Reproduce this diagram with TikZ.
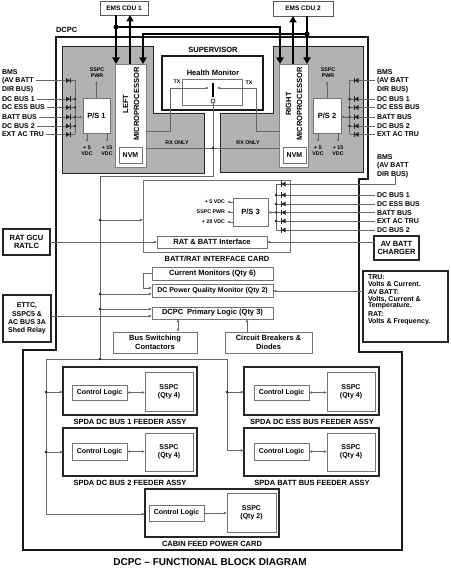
\documentclass[tikz,border=0pt]{standalone}
\usepackage{fontspec}
\setmainfont{Liberation Sans}
\usetikzlibrary{arrows.meta}
\newcommand\mybox[7]{\node[#1, minimum width={(#5)-(#3)}, minimum height={(#6)-(#4)}] (#2) at ({((#3)+(#5))/2},{((#4)+(#6))/2}) {#7};}
\begin{document}
\begin{tikzpicture}[x=1pt,y=-1pt,
 f5/.style={font=\bfseries\fontsize{5.3}{6.3}\selectfont},
 f6/.style={font=\bfseries\fontsize{6.5}{7.5}\selectfont},
 f7/.style={font=\bfseries\fontsize{7}{8.3}\selectfont},
 f75/.style={font=\bfseries\fontsize{7.5}{8.5}\selectfont},
 every node/.style={inner sep=0pt, outer sep=0pt, f75},
 thinbox/.style={draw=black!55, line width=0.9pt, fill=white, align=center},
 darkbox/.style={draw=black!85, line width=1.3pt, fill=white, align=center},
 conn/.style={draw=black!60, line width=0.6pt},
 arr/.style={conn, -{Latex[length=3.2pt,width=2.8pt]}},
 darr/.style={conn, {Latex[length=3.2pt,width=2.8pt]}-{Latex[length=3.2pt,width=2.8pt]}},
 bus/.style={draw=black, line width=1.8pt},
 busarr/.style={bus, -{Triangle[length=6.5pt,width=7pt]}},
 jdot/.style={circle, fill=black!85, minimum size=2.6pt},
 bigdot/.style={circle, fill=black, minimum size=5pt},
 lbl/.style={f7, anchor=west, inner xsep=2pt, text height=5pt, text depth=0pt},
 rlbl/.style={f5, anchor=east, inner xsep=1pt, text height=3.8pt, text depth=0pt},
 diodeR/.pic={\fill[black!85] (-2.5,-2.4) -- (1.6,0) -- (-2.5,2.4) -- cycle; \draw[black!85,line width=0.9pt] (1.9,-2.8) -- (1.9,2.8);},
 diodeL/.pic={\fill[black!85] (2.5,-2.4) -- (-1.6,0) -- (2.5,2.4) -- cycle; \draw[black!85,line width=0.9pt] (-1.9,-2.8) -- (-1.9,2.8);}
]
\useasboundingbox (0,0) rectangle (450,569);
\fill[white] (0,0) rectangle (450,569);

% ---------- DCPC outline ----------
\draw[line width=1.5pt, black!90] (56,37) -- (368,37) -- (368,179) -- (359,179) -- (359,352) -- (402,352) -- (402,550) -- (23,550) -- (23,350) -- (56,350) -- cycle;
\node[anchor=west] (dcpclbl) at (56,30) {DCPC};

% ---------- EMS CDUs ----------
\mybox{draw=black!65, line width=0.9pt, fill=white, f6}{cdu1}{100}{1}{148}{15}{EMS CDU 1}
\mybox{draw=black!65, line width=0.9pt, fill=white, f6}{cdu2}{273}{1}{333}{16}{EMS CDU 2}

% ---------- grey processor areas ----------
\draw[fill=black!30, draw=black!85, line width=0.8pt] (62,46) -- (153,46) -- (153,113) -- (204,113) -- (204,173) -- (62,173) -- cycle;
\draw[fill=black!30, draw=black!85, line width=0.8pt] (273,46) -- (363,46) -- (363,172) -- (220,172) -- (220,113) -- (273,113) -- cycle;

% ---------- supervisor ----------
\mybox{draw=black!90, line width=1.2pt, fill=white}{sup}{162}{56}{263}{110}{}
\node (suplbl) at (213,50) {SUPERVISOR};
\mybox{thinbox}{hm}{182}{79}{242}{105}{}
\node (hmlbl) at (213,73) {Health Monitor};

% ---------- microprocessors ----------
\mybox{draw=black!50, line width=0.6pt, fill=white}{lmp}{115}{64}{146}{167}{}
\node[rotate=90, align=center, font=\bfseries\fontsize{7.5}{11}\selectfont] (lmptxt) at (131,104) {LEFT\\MICROPROCESSOR};
\mybox{thinbox, f7}{lnvm}{119}{147}{142}{163}{NVM}
\mybox{draw=black!50, line width=0.6pt, fill=white}{rmp}{279}{64}{308}{167}{}
\node[rotate=90, align=center, font=\bfseries\fontsize{7.5}{11}\selectfont] (rmptxt) at (294,104) {RIGHT\\MICROPROCESSOR};
\mybox{thinbox, f7}{rnvm}{283}{147}{306}{163}{NVM}

% ---------- health monitor switch, TX, RX ----------
\draw[line width=1.6pt] (213,83) -- (213,97.5);
\node[circle, draw=black, fill=white, line width=0.6pt, minimum size=4pt] (sw) at (213,101) {};
\draw[arr] (lmp.east |- 0,131) -- (170,131) -- (170,88) -- (209,88);
\draw[arr] (rmp.west |- 0,131) -- (256,131) -- (256,88) -- (217,88);
\node[f5] (txl) at (177,82) {TX};
\node[f5] (txr) at (249,83) {TX};
\draw[conn] (lnvm.east -| lmp.east) ++(0,-7) -- (rmp.west |- 0,148);
\node[f5] (rxl) at (177,143) {RX ONLY};
\node[f5] (rxr) at (248,143) {RX ONLY};

% ---------- EMS buses ----------
\draw[busarr] (cdu1.south -| 116,0) -- (lmp.north -| 116,0);
\draw[busarr] (lmp.north -| 130,0) -- (cdu1.south -| 130,0);
\draw[busarr] (116,27) -| (rmp.north -| 280,0);
\draw[busarr] (307,34) -| (lmp.north -| 143,0);
\draw[busarr] (cdu2.south -| 307,0) -- (rmp.north -| 307,0);
\draw[busarr] (rmp.north -| 293,0) -- (cdu2.south -| 293,0);
\node[bigdot] (bd1) at (116,27) {};
\node[bigdot] (bd2) at (307,34) {};

% ---------- P/S 1 ----------
\mybox{thinbox}{ps1}{83}{98}{110}{133}{P/S 1}
\node[f5, align=center] (ps1pwr) at (97,73) {SSPC\\PWR};
\draw[arr] (ps1.north) -- (ps1.north |- 0,81);
\draw[arr] (ps1.south -| 87,0) -- (87,142);
\draw[arr] (ps1.south -| 107,0) -- (107,142);
\node[f5, align=center] (ps1v5) at (87,151) {+ 5\\VDC};
\node[f5, align=center] (ps1v15) at (107,151) {+ 15\\VDC};

\node[lbl] (lA1) at (0,72) {BMS};
\node[lbl] (lA2) at (0,80.5) {(AV BATT};
\node[lbl] (lA3) at (0,89) {DIR BUS)};
\node[lbl] (lB) at (0,99) {DC BUS 1};
\node[lbl] (lC) at (0,107.5) {DC ESS BUS};
\node[lbl] (lD) at (0,117) {BATT BUS};
\node[lbl] (lE) at (0,126) {DC BUS 2};
\node[lbl] (lF) at (0,134.5) {EXT AC TRU};
\foreach \n/\yy in {lA2/80.5, lB/99, lC/107.5, lD/117, lE/126, lF/134.5} {
  \draw[conn] (\n.east) -- (75,\yy);
  \pic at (68.5,\yy) {diodeR};
}
\draw[conn] (75,80.5) -- (75,134.5);
\foreach \yy in {99,107.5,117,126} \node[jdot] at (75,\yy) {};
\draw[arr] (75,117) -- (ps1.west |- 0,117);

% ---------- P/S 2 ----------
\mybox{thinbox}{ps2}{313}{98}{341}{133}{P/S 2}
\node[f5, align=center] (ps2pwr) at (328,73) {SSPC\\PWR};
\draw[arr] (ps2.north) -- (ps2.north |- 0,81);
\draw[arr] (ps2.south -| 318,0) -- (318,142);
\draw[arr] (ps2.south -| 338,0) -- (338,142);
\node[f5, align=center] (ps2v5) at (318,151) {+ 5\\VDC};
\node[f5, align=center] (ps2v15) at (338,151) {+ 15\\VDC};

\node[lbl] (rA1) at (375,72) {BMS};
\node[lbl] (rA2) at (375,80.5) {(AV BATT};
\node[lbl] (rA3) at (375,89) {DIR BUS)};
\node[lbl] (rB) at (375,99) {DC BUS 1};
\node[lbl] (rC) at (375,107.5) {DC ESS BUS};
\node[lbl] (rD) at (375,117) {BATT BUS};
\node[lbl] (rE) at (375,126) {DC BUS 2};
\node[lbl] (rF) at (375,134.5) {EXT AC TRU};
\foreach \n/\yy in {rA2/80.5, rB/99, rC/107.5, rD/117, rE/126, rF/134.5} {
  \draw[conn] (\n.west) -- (349.5,\yy);
  \pic at (356,\yy) {diodeL};
}
\draw[conn] (349.5,80.5) -- (349.5,134.5);
\foreach \yy in {99,107.5,117,126} \node[jdot] at (349.5,\yy) {};
\draw[arr] (349.5,117) -- (ps2.east |- 0,117);

% ---------- BATT/RAT interface card ----------
\mybox{thinbox}{card}{143}{180}{290}{252}{}
\node (cardlbl) at (217,259) {BATT/RAT INTERFACE CARD};
\mybox{thinbox}{ps3}{233}{198}{268}{226}{P/S 3}
\draw[arr] (ps3.west |- 0,202) -- (227,202);
\draw[arr] (ps3.west |- 0,212) -- (227,212);
\draw[arr] (ps3.west |- 0,222) -- (227,222);
\node[rlbl] (o5) at (226,202) {+ 5 VDC};
\node[rlbl] (osp) at (226,212) {SSPC PWR};
\node[rlbl] (o28) at (226,222) {+ 28 VDC};
\mybox{thinbox}{ratbatt}{157}{236}{267}{248}{RAT \& BATT Interface}

\node[lbl] (gA1) at (375,157) {BMS};
\node[lbl] (gA2) at (375,165.5) {(AV BATT};
\node[lbl] (gA3) at (375,174) {DIR BUS)};
\node[lbl] (gB) at (375,195) {DC BUS 1};
\node[lbl] (gC) at (375,204) {DC ESS BUS};
\node[lbl] (gD) at (375,212.5) {BATT BUS};
\node[lbl] (gE) at (375,221) {EXT AC TRU};
\node[lbl] (gF) at (375,230) {DC BUS 2};
\draw[conn] (gA3.south -| 395,0) -- (395,184) -- (276,184);
\pic at (283,184) {diodeL};
\foreach \n/\yy in {gB/195, gC/204, gD/212.5, gE/221, gF/230} {
  \draw[conn] (\n.west) -- (276,\yy);
  \pic at (283,\yy) {diodeL};
}
\draw[conn] (276,184) -- (276,230);
\foreach \yy in {195,204,212.5,221} \node[jdot] at (276,\yy) {};
\draw[arr] (276,212.5) -- (ps3.east |- 0,212.5);

\mybox{darkbox}{avbc}{374}{236}{419}{260}{AV BATT\\CHARGER}
\draw[arr] (avbc.west |- ratbatt.east) -- (ratbatt.east);
\mybox{darkbox}{ratgcu}{3}{229}{50}{255}{RAT GCU\\RATLC}
\draw[arr] (ratgcu.east) -- (ratbatt.west);

% ---------- monitors and logic ----------
\mybox{thinbox}{curmon}{152}{267}{273}{280}{Current Monitors (Qty 6)}
\mybox{thinbox, f7}{pqm}{152}{284}{273}{297}{DC Power Quality Monitor (Qty 2)}
\mybox{thinbox}{prim}{152}{307}{273}{319}{DCPC\enspace Primary Logic (Qty 3)}
\mybox{thinbox}{busw}{113}{332}{197}{353}{Bus Switching\\Contactors}
\mybox{thinbox}{cb}{225}{332}{312}{353}{Circuit Breakers \&\\Diodes}
\draw[arr] (curmon.west) -- (143,273.5) -- (143,288) -- (pqm.west |- 0,288);
\draw[darr] (prim.south -| 178,0) -- (busw.north -| 178,0);
\draw[arr] (cb.north -| 247,0) -- (prim.south -| 247,0);

\mybox{darkbox, align=left}{tru}{363}{271}{448}{342}{}
\node[lbl] (t1) at (366,277) {TRU:};
\node[lbl] (t2) at (366,284) {Volts \& Current.};
\node[lbl] (t3) at (366,292) {AV BATT:};
\node[lbl] (t4) at (366,299) {Volts, Current \&};
\node[lbl] (t5) at (366,305) {Temperature.};
\node[lbl] (t6) at (366,314) {RAT:};
\node[lbl] (t7) at (366,320.5) {Volts \& Frequency.};
\draw[arr] (tru.west |- 0,291) -- (pqm.east |- 0,291);

\mybox{darkbox, font=\bfseries\fontsize{7}{8.2}\selectfont}{ettc}{3}{295}{51}{342}{ETTC,\\SSPC5 \&\\AC BUS 3A\\Shed Relay}
\draw[arr] (ettc.east |- 0,316) -- (prim.west |- 0,316);

% ---------- main bus ----------
\draw[conn] (sw.south) -- (213,176) -- (100,176) -- (100,359);
\draw[conn] (46,359) -- (227,359);
\draw[arr] (100,220) -- (card.west |- 0,220);
\draw[arr] (100,294) -- (pqm.west |- 0,294);
\draw[arr] (100,309) -- (prim.west |- 0,309);
\foreach \yy in {220,294,309,359} \node[jdot] at (100,\yy) {};
\node[jdot] (rxdot) at (213,148) {};

% ---------- feeder assemblies ----------
\mybox{darkbox}{spda1}{63}{367}{197}{415}{}
\mybox{thinbox, f7}{cl1}{72}{385}{127}{400}{Control Logic}
\mybox{thinbox, f7}{ss1}{145}{372}{193}{411}{SSPC\\(Qty 4)}
\draw[darr] (cl1.east) -- (ss1.west |- cl1.east);
\node (spda1lbl) at (130,421.5) {SPDA DC BUS 1 FEEDER ASSY};

\mybox{darkbox}{spda2}{63}{428}{197}{476}{}
\mybox{thinbox, f7}{cl2}{72}{443}{127}{460}{Control Logic}
\mybox{thinbox, f7}{ss2}{145}{433}{193}{471}{SSPC\\(Qty 4)}
\draw[darr] (cl2.east) -- (ss2.west |- cl2.east);
\node (spda2lbl) at (130,482.5) {SPDA DC BUS 2 FEEDER ASSY};

\mybox{darkbox}{spda3}{244}{367}{379}{415}{}
\mybox{thinbox, f7}{cl3}{254}{385}{309}{400}{Control Logic}
\mybox{thinbox, f7}{ss3}{327}{372}{375}{411}{SSPC\\(Qty 4)}
\draw[darr] (cl3.east) -- (ss3.west |- cl3.east);
\node (spda3lbl) at (312,421.5) {SPDA DC ESS BUS FEEDER ASSY};

\mybox{darkbox}{spda4}{244}{428}{379}{476}{}
\mybox{thinbox, f7}{cl4}{254}{443}{309}{460}{Control Logic}
\mybox{thinbox, f7}{ss4}{327}{433}{375}{471}{SSPC\\(Qty 4)}
\draw[darr] (cl4.east) -- (ss4.west |- cl4.east);
\node (spda4lbl) at (312,482.5) {SPDA BATT BUS FEEDER ASSY};

\mybox{darkbox}{cabin}{145}{489}{279}{537}{}
\mybox{thinbox, f7}{cl5}{149}{505}{204}{521}{Control Logic}
\mybox{thinbox, f7}{ss5}{227}{493}{276}{532}{SSPC\\(Qty 2)}
\draw[arr] (cl5.east) -- (ss5.west |- cl5.east);
\node (cabinlbl) at (212,544) {CABIN FEED POWER CARD};

\draw[arr] (227,359) -- (227,450.5) -- (spda4.west |- 0,450.5);
\draw[arr] (227,392) -- (spda3.west |- 0,392);
\node[jdot] at (227,392) {};
\draw[arr] (46,359) -- (46,514) -- (cabin.west |- 0,514);
\draw[arr] (46,392) -- (spda1.west |- 0,392);
\draw[arr] (46,452) -- (spda2.west |- 0,452);
\node[jdot] at (46,392) {};
\node[jdot] at (46,452) {};

% ---------- title ----------
\node[font=\bfseries\fontsize{10}{12}\selectfont] (title) at (210,562) {DCPC -- FUNCTIONAL BLOCK DIAGRAM};
\end{tikzpicture}
\end{document}
